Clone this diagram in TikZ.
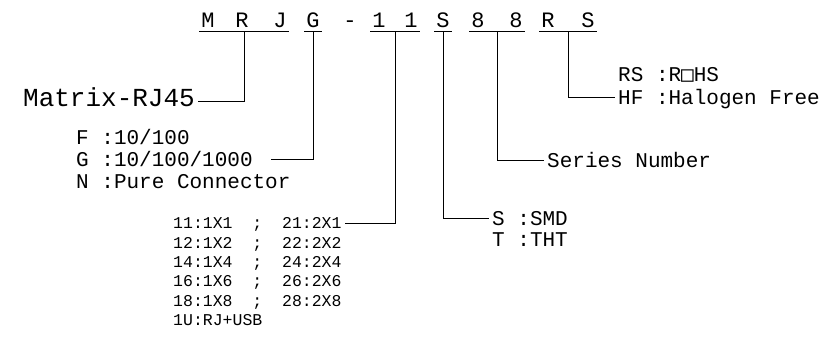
\documentclass[tikz,border=0pt]{standalone}
\usepackage{fontspec}
\setmainfont{Liberation Mono}
\newfontfamily\boxfont{DejaVu Sans Mono}
\usetikzlibrary{positioning}

\begin{document}
\begin{tikzpicture}[x=1pt,y=-1pt,
  code/.style={anchor=base,inner xsep=2pt,inner ysep=4pt,text depth=0pt,
    font=\fontsize{22}{22}\selectfont},
  lbl/.style={inner sep=3pt,text depth=0pt,anchor=west},
  big/.style={font=\fontsize{26}{26}\selectfont,text height=18pt},
  mid/.style={font=\fontsize{21}{21}\selectfont,text height=14.5pt},
  sml/.style={font=\fontsize{16.5}{16.5}\selectfont,text height=11.5pt},
  ln/.style={line width=0.8pt}]
\useasboundingbox (0,0) rectangle (826,348);

% part number
\node[code] (m) at (208,27) {M};
\node[code] (r) at (242,27) {R};
\node[code] (j) at (280,27) {J};
\node[code] (g) at (313,27) {G};
\node[code] (hy) at (350,27) {-};
\node[code] (n1) at (379,27) {1};
\node[code] (n2) at (411,27) {1};
\node[code] (s) at (443,27) {S};
\node[code] (e1) at (478,27) {8};
\node[code] (e2) at (516,27) {8};
\node[code] (r2) at (548,27) {R};
\node[code] (s2) at (588,27) {S};

% underlines
\draw[ln] (m.south west) -- coordinate (u1) (j.south east);
\draw[ln] (g.south west) -- coordinate (u2) (g.south east);
\draw[ln] (n1.south west) -- coordinate (u3) (n2.south east);
\draw[ln] (s.south west) -- coordinate (u4) (s.south east);
\draw[ln] (e1.south west) -- coordinate (u5) (e2.south east);
\draw[ln] (r2.south west) -- coordinate (u6) (s2.south east);

% meanings
\node[lbl,big,anchor=east] (mx) at (198,97) {Matrix-RJ45};

\node[lbl,mid] (fF) at (73,137) {F :10/100};
\node[lbl,mid,below=1pt of fF.south west,anchor=north west] (fG) {G :10/100/1000};
\node[lbl,mid,below=1pt of fG.south west,anchor=north west] (fN) {N :Pure Connector};

\node[lbl,sml] (p1) at (170,223) {11:1X1~~;~~21:2X1};
\node[lbl,sml,below=1.5pt of p1.south west,anchor=north west] (p2) {12:1X2~~;~~22:2X2};
\node[lbl,sml,below=1.5pt of p2.south west,anchor=north west] (p4) {14:1X4~~;~~24:2X4};
\node[lbl,sml,below=1.5pt of p4.south west,anchor=north west] (p6) {16:1X6~~;~~26:2X6};
\node[lbl,sml,below=1.5pt of p6.south west,anchor=north west] (p8) {18:1X8~~;~~28:2X8};
\node[lbl,sml,below=1.5pt of p8.south west,anchor=north west] (pu) {1U:RJ+USB};

\node[lbl,mid] (smd) at (489,218) {S :SMD};
\node[lbl,mid,below=0pt of smd.south west,anchor=north west] (tht) {T :THT};

\node[lbl,mid] (ser) at (544,160) {Series Number};

\node[lbl,mid] (hf) at (615,97) {HF :Halogen Free};
\node[lbl,mid,above=2pt of hf.north west,anchor=south west] (rohs) {RS :R{\boxfont □}HS};

% leaders
\draw[ln] (u1) |- ([yshift=-4pt]mx.east);
\draw[ln] (u2) |- ([xshift=15pt]fG.east);
\draw[ln] (u3) |- (p1.east);
\draw[ln] (u4) |- (smd.west);
\draw[ln] (u5) |- (ser.west);
\draw[ln] (u6) |- (hf.west);
\end{tikzpicture}
\end{document}
